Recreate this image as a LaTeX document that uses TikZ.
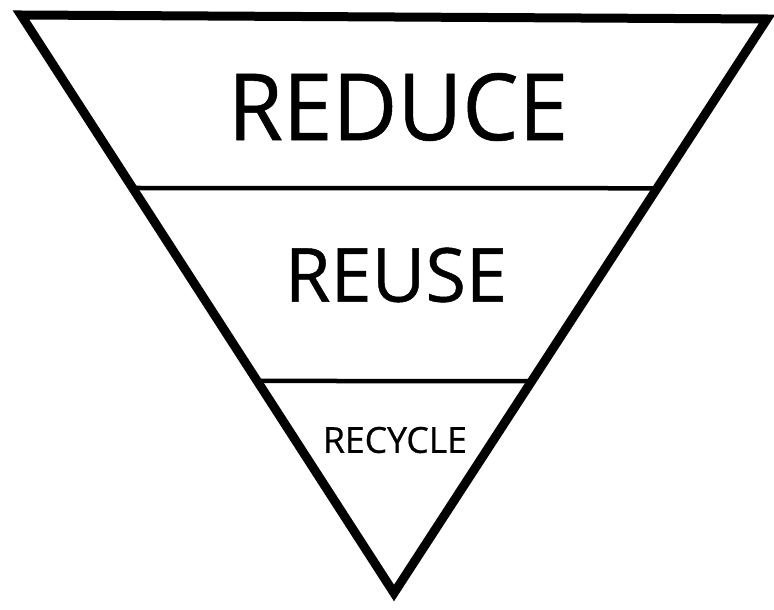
\documentclass[tikz,border=0pt]{standalone}
\usepackage{fontspec}
\setmainfont{Open Sans}
\usetikzlibrary{calc}
\tikzset{
  outline/.style={draw=black, line width=9bp, line join=miter},
  divider/.style={draw=black, line width=4.5bp},
  label/.style={inner sep=0pt, text=black, font=\addfontfeatures{FakeBold=0.6}}
}
\begin{document}
\begin{tikzpicture}[x=1bp,y=-1bp]
  \fill[white] (0,0) rectangle (774,610);
  \useasboundingbox (0,0) rectangle (774,610);
  \coordinate (TL) at (21,15);
  \coordinate (TR) at (767,19);
  \coordinate (B) at (394,593);
  \draw[outline] (TL) -- (TR) -- (B) -- cycle;
  \coordinate (L1) at ($(TL)!0.2993!(B)$);
  \coordinate (R1) at ($(TR)!0.2949!(B)$);
  \coordinate (L2) at ($(TL)!0.6332!(B)$);
  \coordinate (R2) at ($(TR)!0.6307!(B)$);
  \draw[divider] (L1) -- (R1);
  \draw[divider] (L2) -- (R2);
  \node[label] (reduce) at (398,107) {\resizebox{340bp}{67bp}{REDUCE}};
  \node[label] (reuse) at (396,275) {\resizebox{222bp}{54bp}{REUSE}};
  \node[label] (recycle) at (395,440) {\resizebox{144bp}{26bp}{RECYCLE}};
\end{tikzpicture}
\end{document}
